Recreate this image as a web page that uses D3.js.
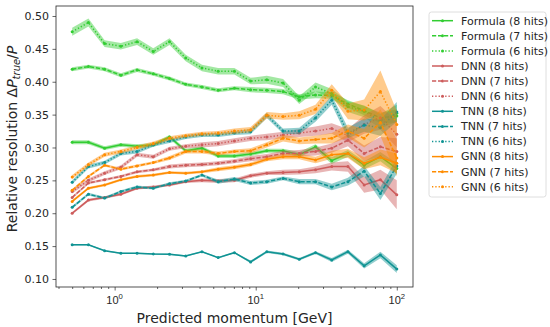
<!DOCTYPE html>
<html>
<head>
<meta charset="utf-8">
<script src="https://cdn.jsdelivr.net/npm/d3@7"></script>
<style>
	body { margin: 0; background: #fff; }
	svg { display: block; font-family: "DejaVu Sans", sans-serif; }
</style>
</head>
<body>
<svg id="chart" width="550" height="327"></svg>
<script>
"use strict";

// Data

const momentum = [0.5, 0.652, 0.849, 1.107, 1.442, 1.879, 2.449, 3.191, 4.158, 5.419, 7.06,
	9.2, 11.99, 15.63, 20.36, 26.54, 34.58, 45.06, 58.72, 76.52, 100];

const formula8 = [0.308, 0.308, 0.299, 0.304, 0.302, 0.304, 0.316, 0.295, 0.299, 0.287, 0.287,
	0.290, 0.295, 0.295, 0.289, 0.301, 0.280, 0.291, 0.273, 0.286, 0.268];
const formula7 = [0.419, 0.423, 0.419, 0.410, 0.418, 0.412, 0.405, 0.396, 0.392, 0.387, 0.390,
	0.388, 0.387, 0.385, 0.377, 0.380, 0.379, 0.366, 0.356, 0.345, 0.348];
const formula6 = [0.476, 0.490, 0.458, 0.454, 0.461, 0.446, 0.461, 0.436, 0.421, 0.416, 0.416,
	0.401, 0.403, 0.398, 0.372, 0.392, 0.382, 0.362, 0.355, 0.340, 0.352];

const dnn8 = [0.200, 0.220, 0.224, 0.229, 0.238, 0.240, 0.243, 0.248, 0.250, 0.249, 0.250,
	0.257, 0.261, 0.262, 0.263, 0.266, 0.271, 0.271, 0.243, 0.251, 0.228];
const dnn7 = [0.224, 0.246, 0.251, 0.256, 0.263, 0.266, 0.271, 0.273, 0.274, 0.276, 0.279,
	0.283, 0.286, 0.291, 0.291, 0.294, 0.299, 0.311, 0.291, 0.301, 0.294];
const dnn6 = [0.233, 0.250, 0.261, 0.270, 0.289, 0.286, 0.298, 0.302, 0.304, 0.306, 0.310,
	0.314, 0.316, 0.319, 0.322, 0.325, 0.329, 0.318, 0.335, 0.345, 0.320];

const tnn8 = [0.152, 0.152, 0.143, 0.139, 0.139, 0.138, 0.1376, 0.135, 0.1415, 0.1325, 0.140,
	0.126, 0.1415, 0.138, 0.130, 0.140, 0.129, 0.1415, 0.120, 0.1365, 0.115];
const tnn7 = [0.209, 0.229, 0.223, 0.233, 0.240, 0.238, 0.245, 0.249, 0.258, 0.248, 0.252,
	0.246, 0.248, 0.253, 0.248, 0.248, 0.240, 0.248, 0.264, 0.230, 0.272];
const tnn6 = [0.247, 0.271, 0.277, 0.291, 0.294, 0.304, 0.310, 0.316, 0.319, 0.319, 0.322,
	0.324, 0.349, 0.325, 0.325, 0.345, 0.372, 0.322, 0.334, 0.330, 0.354];

const gnn8 = [0.218, 0.238, 0.243, 0.251, 0.256, 0.258, 0.262, 0.261, 0.263, 0.267, 0.270,
	0.274, 0.282, 0.286, 0.286, 0.281, 0.289, 0.291, 0.276, 0.285, 0.276];
const gnn7 = [0.235, 0.256, 0.273, 0.267, 0.272, 0.277, 0.284, 0.294, 0.294, 0.291, 0.294,
	0.295, 0.304, 0.314, 0.310, 0.312, 0.314, 0.325, 0.314, 0.338, 0.284];
const gnn6 = [0.255, 0.274, 0.289, 0.294, 0.300, 0.306, 0.314, 0.318, 0.321, 0.322, 0.325,
	0.327, 0.349, 0.347, 0.349, 0.358, 0.387, 0.355, 0.357, 0.385, 0.335];

// half widths of the shaded bands
const errFormula8 = [0.003, 0.003, 0.003, 0.003, 0.003, 0.003, 0.003, 0.003, 0.003, 0.003, 0.003,
	0.003, 0.003, 0.003, 0.004, 0.004, 0.005, 0.005, 0.006, 0.007, 0.008];
const errFormula7 = [0.003, 0.003, 0.003, 0.003, 0.003, 0.003, 0.003, 0.003, 0.003, 0.003, 0.003,
	0.004, 0.004, 0.004, 0.004, 0.005, 0.005, 0.006, 0.007, 0.008, 0.010];
const errFormula6 = [0.006, 0.006, 0.005, 0.005, 0.005, 0.005, 0.005, 0.005, 0.005, 0.005, 0.005,
	0.005, 0.006, 0.006, 0.006, 0.007, 0.007, 0.008, 0.009, 0.011, 0.013];
const errDnn8 = [0.002, 0.002, 0.002, 0.002, 0.002, 0.002, 0.002, 0.002, 0.003, 0.003, 0.003,
	0.003, 0.003, 0.004, 0.004, 0.005, 0.006, 0.008, 0.012, 0.015, 0.022];
const errDnn7 = [0.002, 0.002, 0.002, 0.002, 0.002, 0.002, 0.003, 0.003, 0.003, 0.003, 0.003,
	0.004, 0.004, 0.004, 0.005, 0.006, 0.007, 0.009, 0.012, 0.015, 0.020];
const errDnn6 = [0.003, 0.003, 0.003, 0.003, 0.003, 0.003, 0.003, 0.003, 0.004, 0.004, 0.004,
	0.004, 0.005, 0.005, 0.006, 0.007, 0.008, 0.010, 0.014, 0.018, 0.020];
const errTnn8 = [0.001, 0.001, 0.001, 0.001, 0.001, 0.001, 0.001, 0.001, 0.001, 0.001, 0.001,
	0.002, 0.002, 0.002, 0.002, 0.002, 0.003, 0.003, 0.004, 0.005, 0.006];
const errTnn7 = [0.002, 0.002, 0.002, 0.002, 0.002, 0.002, 0.002, 0.002, 0.002, 0.003, 0.003,
	0.003, 0.003, 0.003, 0.004, 0.004, 0.005, 0.006, 0.008, 0.010, 0.012];
const errTnn6 = [0.003, 0.003, 0.003, 0.003, 0.003, 0.003, 0.003, 0.003, 0.003, 0.003, 0.003,
	0.004, 0.004, 0.004, 0.005, 0.006, 0.007, 0.008, 0.010, 0.012, 0.015];
const errGnn8 = [0.002, 0.002, 0.002, 0.002, 0.002, 0.002, 0.002, 0.002, 0.002, 0.003, 0.003,
	0.003, 0.003, 0.004, 0.004, 0.005, 0.006, 0.007, 0.009, 0.012, 0.015];
const errGnn7 = [0.002, 0.002, 0.002, 0.002, 0.002, 0.002, 0.003, 0.003, 0.003, 0.003, 0.003,
	0.004, 0.004, 0.005, 0.005, 0.006, 0.008, 0.010, 0.014, 0.020, 0.028];
const errGnn6 = [0.003, 0.003, 0.003, 0.003, 0.003, 0.003, 0.003, 0.003, 0.003, 0.003, 0.004,
	0.004, 0.005, 0.005, 0.006, 0.007, 0.009, 0.012, 0.016, 0.032, 0.020];

const yTicks = [0.10, 0.15, 0.20, 0.25, 0.30, 0.35, 0.40, 0.45, 0.50];
const xTicks = [1, 10, 100];
const xMinorTicks = [0.4, 0.5, 0.6, 0.7, 0.8, 0.9, 2, 3, 4, 5, 6, 7, 8, 9,
	20, 30, 40, 50, 60, 70, 80, 90];

// Colours and line styles
const green = "#32cd32";
const red = "#cd5c5c";
const teal = "#0f9393";
const orange = "#ff8c00";
const dashes = { 8: null, 7: "4.2,1.8", 6: "1.3,2" };

const series = [
	{ name: "Formula (8 hits)", values: formula8, err: errFormula8, color: green, hits: 8 },
	{ name: "Formula (7 hits)", values: formula7, err: errFormula7, color: green, hits: 7 },
	{ name: "Formula (6 hits)", values: formula6, err: errFormula6, color: green, hits: 6 },
	{ name: "DNN (8 hits)", values: dnn8, err: errDnn8, color: red, hits: 8 },
	{ name: "DNN (7 hits)", values: dnn7, err: errDnn7, color: red, hits: 7 },
	{ name: "DNN (6 hits)", values: dnn6, err: errDnn6, color: red, hits: 6 },
	{ name: "TNN (8 hits)", values: tnn8, err: errTnn8, color: teal, hits: 8 },
	{ name: "TNN (7 hits)", values: tnn7, err: errTnn7, color: teal, hits: 7 },
	{ name: "TNN (6 hits)", values: tnn6, err: errTnn6, color: teal, hits: 6 },
	{ name: "GNN (8 hits)", values: gnn8, err: errGnn8, color: orange, hits: 8 },
	{ name: "GNN (7 hits)", values: gnn7, err: errGnn7, color: orange, hits: 7 },
	{ name: "GNN (6 hits)", values: gnn6, err: errGnn6, color: orange, hits: 6 }
];

// Set up chart

const svg = d3.select("#chart");
const plotLeft = 56, plotRight = 413, plotTop = 6, plotBottom = 287;
const axisColor = "#262626";

const x = d3.scaleLog().domain([0.384, 130.3]).range([plotLeft, plotRight]);
const y = d3.scaleLinear().domain([0.0878, 0.5152]).range([plotBottom, plotTop]);

svg.append("defs").append("clipPath")
	.attr("id", "plotClip")
	.append("rect")
	.attr("x", plotLeft).attr("y", plotTop)
	.attr("width", plotRight - plotLeft).attr("height", plotBottom - plotTop);

const plot = svg.append("g").attr("clip-path", "url(#plotClip)");

// Draw bands, lines and markers
series.forEach(function(s) {
	const pts = momentum.map(function(m, i) {
		return { m: m, v: s.values[i], e: s.err[i] };
	});

	const area = d3.area()
		.x(function(d) { return x(d.m); })
		.y0(function(d) { return y(d.v - d.e); })
		.y1(function(d) { return y(d.v + d.e); });

	const line = d3.line()
		.x(function(d) { return x(d.m); })
		.y(function(d) { return y(d.v); });

	const g = plot.append("g");

	g.append("path")
		.datum(pts)
		.attr("d", area)
		.style("fill", s.color)
		.style("fill-opacity", 0.45)
		.style("stroke", "none");

	g.append("path")
		.datum(pts)
		.attr("d", line)
		.style("fill", "none")
		.style("stroke", s.color)
		.style("stroke-width", 1.5)
		.style("stroke-dasharray", dashes[s.hits]);

	g.selectAll("circle")
		.data(pts)
		.enter()
		.append("circle")
		.attr("cx", function(d) { return x(d.m); })
		.attr("cy", function(d) { return y(d.v); })
		.attr("r", 1.5)
		.style("fill", s.color);
});

// Axes

const xAxis = svg.append("g")
	.attr("transform", "translate(0," + plotBottom + ")")
	.call(d3.axisBottom(x).tickValues(xTicks).tickSize(3.5).tickFormat(""));

xAxis.append("g")
	.call(d3.axisBottom(x).tickValues(xMinorTicks).tickSize(2).tickFormat(""));

xAxis.selectAll(".domain").remove();
xAxis.selectAll("line").style("stroke", axisColor).style("stroke-width", 0.7);

// x tick labels as 10^n
xAxis.selectAll(".tickLabel")
	.data(xTicks)
	.enter()
	.append("text")
	.attr("class", "tickLabel")
	.attr("x", function(d) { return x(d); })
	.attr("y", 16.5)
	.attr("text-anchor", "middle")
	.style("font-size", "11px")
	.style("fill", axisColor)
	.each(function(d) {
		const t = d3.select(this);
		t.append("tspan").text("10");
		t.append("tspan")
			.attr("dy", -4.5)
			.style("font-size", "7.7px")
			.text(Math.round(Math.log10(d)));
	});

const yAxis = svg.append("g")
	.attr("transform", "translate(" + plotLeft + ",0)")
	.call(d3.axisLeft(y).tickValues(yTicks).tickSize(3.5).tickPadding(3.5).tickFormat(d3.format(".2f")));

yAxis.selectAll(".domain").remove();
yAxis.selectAll("line").style("stroke", axisColor).style("stroke-width", 0.7);
yAxis.selectAll("text")
	.style("font-family", "DejaVu Sans")
	.style("font-size", "11px")
	.style("fill", axisColor);

// Frame
svg.append("rect")
	.attr("x", plotLeft).attr("y", plotTop)
	.attr("width", plotRight - plotLeft).attr("height", plotBottom - plotTop)
	.style("fill", "none")
	.style("stroke", axisColor)
	.style("stroke-width", 0.8);

// Axis labels
svg.append("text")
	.attr("x", (plotLeft + plotRight) / 2)
	.attr("y", 323)
	.attr("text-anchor", "middle")
	.style("font-size", "14px")
	.style("fill", axisColor)
	.text("Predicted momentum [GeV]");

const yLabel = svg.append("text")
	.attr("transform", "translate(17,139) rotate(-90)")
	.attr("text-anchor", "middle")
	.style("font-size", "14px")
	.style("fill", axisColor);

yLabel.append("tspan").text("Relative resolution \u0394");
yLabel.append("tspan").style("font-style", "italic").text("P");
yLabel.append("tspan").attr("dy", 3).style("font-style", "italic").style("font-size", "10px").text("true");
yLabel.append("tspan").attr("dy", -3).text("/");
yLabel.append("tspan").style("font-style", "italic").text("P");

// Legend

const legend = svg.append("g").attr("transform", "translate(429,12)");

legend.append("rect")
	.attr("width", 117)
	.attr("height", 185)
	.attr("rx", 2.5)
	.style("fill", "#fff")
	.style("fill-opacity", 0.8)
	.style("stroke", "#d5d5d5")
	.style("stroke-width", 0.8);

const items = legend.selectAll(".item")
	.data(series)
	.enter()
	.append("g")
	.attr("class", "item")
	.attr("transform", function(d, i) {
		return "translate(0," + (8.7 + i * 15.1) + ")";
	});

items.append("line")
	.attr("x1", 3).attr("x2", 24)
	.style("stroke", function(d) { return d.color; })
	.style("stroke-width", 1.5)
	.style("stroke-dasharray", function(d) { return dashes[d.hits]; });

items.append("circle")
	.attr("cx", 13.5)
	.attr("r", 1.5)
	.style("fill", function(d) { return d.color; });

items.append("text")
	.attr("x", 32)
	.attr("dy", "0.35em")
	.style("font-size", "11px")
	.style("fill", axisColor)
	.text(function(d) { return d.name; });
</script>
</body>
</html>
